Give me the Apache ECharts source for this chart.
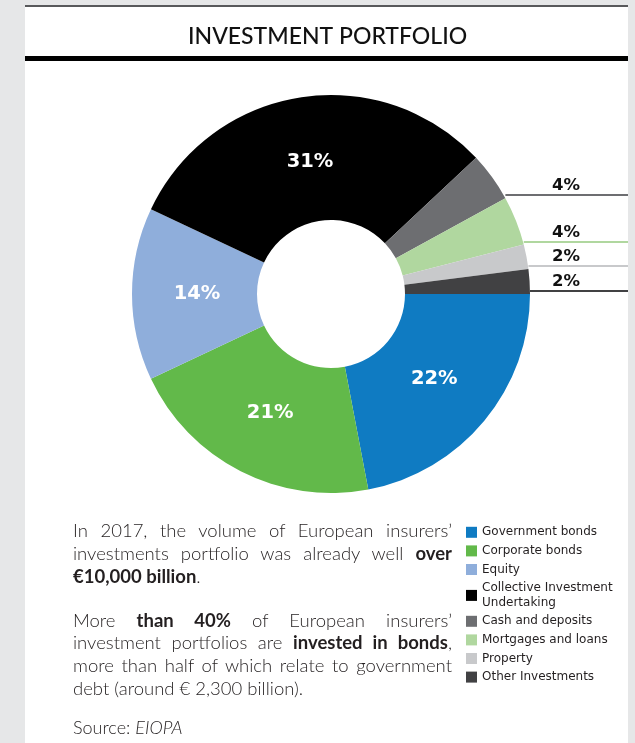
<!DOCTYPE html>
<html>
<head>
<meta charset="utf-8">
<script src="https://cdn.jsdelivr.net/npm/echarts@6/dist/echarts.min.js"></script>
<style>
  html, body { margin: 0; padding: 0; background: #e6e7e8; }
  #wrap { position: relative; width: 635px; height: 743px; overflow: hidden; }
  #panel { position: absolute; left: 25px; top: 6px; width: 603px; height: 737px; background: #fff; }
  #topline { position: absolute; left: 25px; top: 5px; width: 603px; height: 2px; background: #58595b; }
  #bar { position: absolute; left: 25px; top: 56px; width: 603px; height: 5px; background: #000; }
  #chart { position: absolute; left: 0; top: 0; width: 635px; height: 743px; }
  .txt { position: absolute; left: 73px; width: 379px; font-family: Lato, "Open Sans", sans-serif;
         font-weight: 300; font-size: 18.5px; line-height: 22.8px; color: #231f20; }
  .txt b { font-weight: 700; }
  .j { text-align: justify; text-align-last: justify; }
  #src { position: absolute; left: 73px; top: 716px; font-family: Lato, sans-serif; font-weight: 300;
         font-size: 18px; line-height: 22px; color: #231f20; }
</style>
</head>
<body>
<div id="wrap">
  <div id="panel"></div>
  <div id="topline"></div>
  <div id="bar"></div>
  <div id="chart"></div>
  <div class="txt" style="top:519px">
    <div class="j">In 2017, the volume of European insurers’</div>
    <div class="j">investments portfolio was already well <b>over</b></div>
    <div><b>€10,000 billion</b>.</div>
  </div>
  <div class="txt" style="top:608.5px">
    <div class="j">More <b>than 40%</b> of European insurers’</div>
    <div class="j">investment portfolios are <b>invested in bonds</b>,</div>
    <div class="j">more than half of which relate to government</div>
    <div>debt (around € 2,300 billion).</div>
  </div>
  <div id="src">Source: <i>EIOPA</i></div>
</div>
<script>
// Portfolio breakdown (share of total, %)
const categories = [
  'Government bonds', 'Corporate bonds', 'Equity', 'Collective Investment Undertaking',
  'Cash and deposits', 'Mortgages and loans', 'Property', 'Other Investments'
];
const shares = [22, 21, 14, 31, 4, 4, 2, 2];
const colors = ['#0f7bc2', '#62b94a', '#8faedb', '#000000', '#6d6e71', '#b0d79f', '#c8c9cb', '#414143'];

// Donut geometry
const CX = 331, CY = 294, R_IN = 74, R_OUT = 199;
const LABEL_R = 134;           // radius of the in-ring percentage labels
const RIGHT_EDGE = 628;
const total = shares.reduce((a, b) => a + b, 0);

// Angle (radians, clockwise from 3 o'clock) after the first n slices
function cumAngle(n) {
  let cum = 0;
  for (let i = 0; i < n; i++) cum += shares[i];
  return cum / total * Math.PI * 2;
}

// Slices too thin for an inside label get a leader line to the right edge
const small = shares.map(v => v < 10);

const chart = echarts.init(document.getElementById('chart'), null, { renderer: 'canvas' });

chart.setOption({
  animation: false,
  title: {
    text: 'INVESTMENT PORTFOLIO',
    left: 183, top: 20,
    textStyle: { fontFamily: 'Lato, sans-serif', fontWeight: 500, fontSize: 23, color: '#111' }
  },
  legend: {
    orient: 'vertical',
    left: 466, top: 525,
    padding: 0,
    itemWidth: 11, itemHeight: 11, itemGap: 4,
    icon: 'rect',
    data: categories,
    formatter: n => n === 'Collective Investment Undertaking' ? 'Collective Investment\nUndertaking' : n,
    textStyle: { fontFamily: '"DejaVu Sans", sans-serif', fontSize: 12, color: '#231f20', lineHeight: 14.6 }
  },
  series: [{
    type: 'pie',
    center: [CX, CY],
    radius: [R_IN, R_OUT],
    startAngle: 0,
    clockwise: true,
    avoidLabelOverlap: false,
    data: categories.map((name, i) => ({
      name, value: shares[i],
      itemStyle: { color: colors[i] },
      label: small[i]
        ? { position: 'outside', color: '#111', fontSize: 16.5 }
        : { position: 'inside', color: '#fff', fontSize: 19.5 },
      labelLine: { show: small[i], lineStyle: { width: 2, color: colors[i] } }
    })),
    label: {
      formatter: p => p.value + '%',
      fontFamily: '"DejaVu Sans", sans-serif',
      fontWeight: 'bold'
    },
    labelLayout: function (p) {
      const i = p.dataIndex;
      if (!small[i]) {
        const mid = (cumAngle(i) + cumAngle(i + 1)) / 2;
        return {
          x: CX + LABEL_R * Math.cos(mid), y: CY + LABEL_R * Math.sin(mid),
          align: 'center', verticalAlign: 'middle'
        };
      }
      const a = cumAngle(i + 1);
      const cx = CX + R_OUT * Math.cos(a), cy = CY + R_OUT * Math.sin(a);
      const y = Math.round(cy - 3);
      return {
        x: 566, y: y - 9,
        align: 'center', verticalAlign: 'middle',
        labelLinePoints: [[cx, y], [cx + 1, y], [RIGHT_EDGE, y]]
      };
    }
  }]
});
</script>
</body>
</html>
